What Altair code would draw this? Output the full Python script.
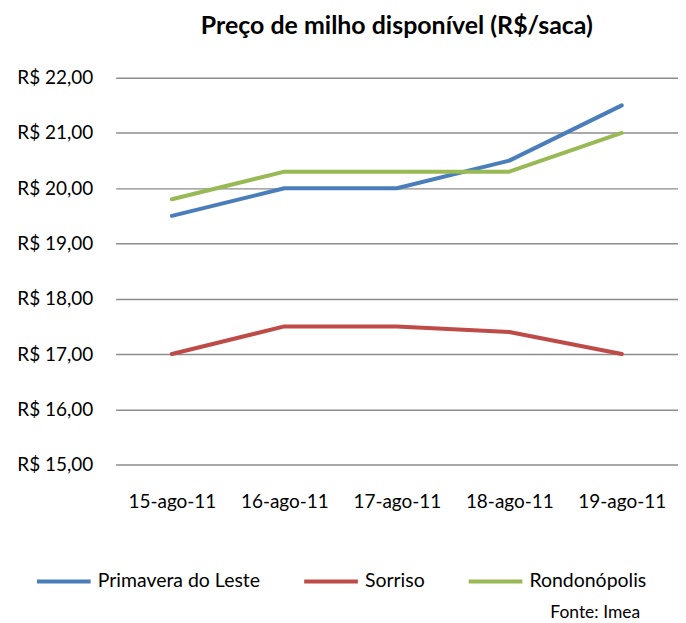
import altair as alt
import pandas as pd

dates = ["15-ago-11", "16-ago-11", "17-ago-11", "18-ago-11", "19-ago-11"]
series_names = ["Primavera do Leste", "Sorriso", "Rondonópolis"]
primavera = [19.5, 20.0, 20.0, 20.5, 21.5]
sorriso = [17.0, 17.5, 17.5, 17.4, 17.0]
rondonopolis = [19.8, 20.3, 20.3, 20.3, 21.0]
colors = ["#4A7EBB", "#BE4B48", "#98B954"]
y_ticks = [15, 16, 17, 18, 19, 20, 21, 22]

rows = []
for name, vals in zip(series_names, [primavera, sorriso, rondonopolis]):
    for d, v in zip(dates, vals):
        rows.append({"data": d, "serie": name, "preco": v})
df = pd.DataFrame(rows)

FONT = "Lato"

lines = alt.Chart(df).mark_line(strokeWidth=4, strokeCap="round", strokeJoin="round").encode(
    x=alt.X("data:N", sort=dates, title=None,
            scale=alt.Scale(type="point", padding=0.5),
            axis=alt.Axis(labelAngle=0, ticks=False, domain=False, grid=False,
                          labelPadding=28, labelFontSize=19, labelColor="#000000",
                          labelFont=FONT)),
    y=alt.Y("preco:Q", title=None,
            scale=alt.Scale(domain=[15, 22], nice=False, zero=False),
            axis=alt.Axis(values=y_ticks, ticks=False, domain=False,
                          labelExpr="'R$ ' + replace(format(datum.value, '.2f'), '.', ',')",
                          labelPadding=23, labelFontSize=19, labelColor="#000000",
                          labelFont=FONT, gridColor="#8C8C8C", gridWidth=1.5)),
    color=alt.Color("serie:N", sort=series_names,
                    scale=alt.Scale(domain=series_names, range=colors),
                    legend=alt.Legend(title=None, orient="none", direction="horizontal",
                                      columns=3, legendX=-81, legendY=476,
                                      symbolType="stroke", symbolSize=2900,
                                      symbolStrokeWidth=4, labelFontSize=19.5,
                                      labelFont=FONT, labelColor="#000000",
                                      labelLimit=400,
                                      labelOffset=5, columnPadding=36)),
)

note = alt.Chart(pd.DataFrame({"t": ["Fonte: Imea"]})).mark_text(
    align="right", baseline="alphabetic", fontSize=17.5, font=FONT, color="#000000"
).encode(text="t:N", x=alt.value(526), y=alt.value(542))

chart = alt.layer(lines, note).properties(
    width=564, height=388,
    autosize=alt.AutoSizeParams(type="none"),
    padding={"left": 108, "top": 69, "right": 0, "bottom": 156},
    title=alt.TitleParams("Preço de milho disponível (R$/saca)", fontSize=25,
                          font=FONT, fontWeight="bold", color="#000000",
                          anchor="middle", offset=30),
).configure_view(stroke=None)

chart.save("out.html", embed_options={"renderer": "svg", "actions": False})
